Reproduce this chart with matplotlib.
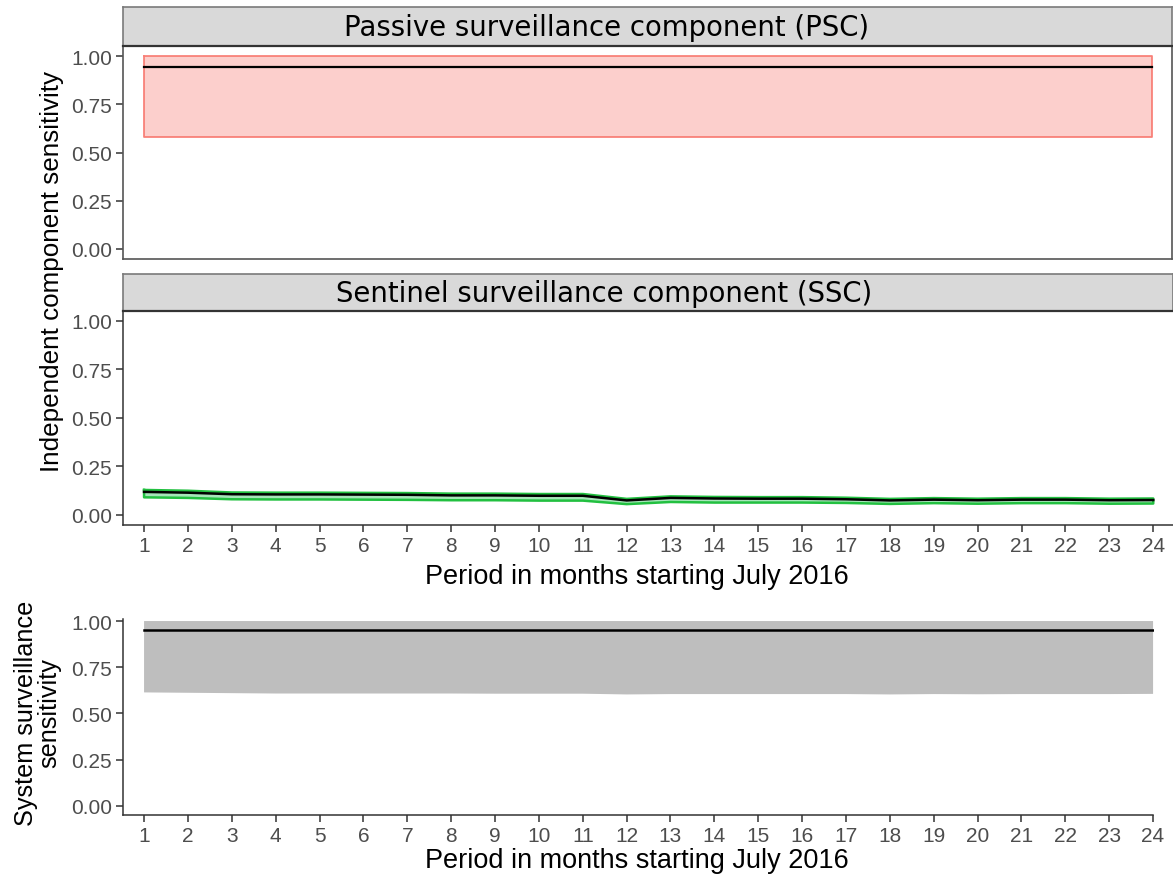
import numpy as np
import matplotlib
matplotlib.use("Agg")
import matplotlib.pyplot as plt

# Months since July 2016
months = list(range(1, 25))

# Passive surveillance component (PSC): median and 95% interval
psc_mean = [0.943] * 24
psc_lower = [0.580] * 24
psc_upper = [1.000] * 24

# Sentinel surveillance component (SSC)
ssc_mean = [0.118, 0.114, 0.106, 0.105, 0.105, 0.104, 0.103, 0.100, 0.100, 0.098,
            0.098, 0.074, 0.087, 0.084, 0.083, 0.083, 0.080, 0.074, 0.078, 0.075,
            0.078, 0.078, 0.075, 0.076]
ssc_lower = [0.090, 0.087, 0.080, 0.079, 0.079, 0.078, 0.077, 0.075, 0.075, 0.073,
             0.073, 0.055, 0.066, 0.063, 0.063, 0.063, 0.061, 0.056, 0.060, 0.057,
             0.060, 0.060, 0.057, 0.058]
ssc_upper = [0.128, 0.124, 0.115, 0.114, 0.114, 0.113, 0.112, 0.109, 0.109, 0.107,
             0.107, 0.082, 0.095, 0.092, 0.091, 0.091, 0.088, 0.082, 0.086, 0.083,
             0.086, 0.086, 0.083, 0.084]

# Whole-system surveillance sensitivity
sys_mean = [0.951] * 24
sys_lower = [0.614, 0.612, 0.610, 0.608, 0.608, 0.608, 0.608, 0.608, 0.607, 0.607,
             0.607, 0.603, 0.605, 0.605, 0.605, 0.605, 0.605, 0.603, 0.605, 0.604,
             0.605, 0.605, 0.605, 0.606]
sys_upper = [1.000] * 24

yticks = [0.0, 0.25, 0.5, 0.75, 1.0]
ytick_labels = ["0.00", "0.25", "0.50", "0.75", "1.00"]
strip_titles = ["Passive surveillance component (PSC)",
                "Sentinel surveillance component (SSC)"]
xlabel = "Period in months starting July 2016"

W, H = 1173, 879
fig = plt.figure(figsize=(W / 100, H / 100), dpi=100)

TICK_FONT = "Liberation Sans"
AX_COL = "#333333"
TXT_COL = "#4D4D4D"
TICK_SIZE = 15
LABEL_SIZE = 19.5


def px_axes(x0, y0, x1, y1):
    return fig.add_axes([x0 / W, 1 - y1 / H, (x1 - x0) / W, (y1 - y0) / H])


def style_y(ax):
    ax.set_yticks(yticks)
    ax.set_yticklabels(ytick_labels, fontfamily=TICK_FONT, fontsize=TICK_SIZE,
                       color=TXT_COL)
    ax.tick_params(axis="y", length=5, width=1.1, color=AX_COL, pad=3)


def style_x(ax):
    ax.set_xticks(months)
    ax.set_xticklabels([str(m) for m in months], fontfamily=TICK_FONT,
                       fontsize=TICK_SIZE, color=TXT_COL)
    ax.tick_params(axis="x", length=5, width=1.1, color=AX_COL, pad=3)


def strip(x0, y0, x1, y1, title, tx):
    s = px_axes(x0, y0, x1, y1)
    s.set_facecolor("#D9D9D9")
    s.set_xticks([])
    s.set_yticks([])
    for side in ["top", "left", "right"]:
        s.spines[side].set_color("#7a7a7a")
        s.spines[side].set_linewidth(1.2)
    s.spines["bottom"].set_color(AX_COL)
    s.spines["bottom"].set_linewidth(1.6)
    fig.text(tx / W, 1 - ((y0 + y1) / 2 + 1) / H, title, ha="center", va="center",
             fontfamily="DejaVu Sans", fontsize=19.8, color="black")


XL = (0.52, 24.45)

# --- PSC panel ---
ax1 = px_axes(123, 47, 1172, 260)
ax1.fill_between(months, psc_lower, psc_upper, facecolor="#F8766D", alpha=0.35,
                 edgecolor="none")
ax1.plot(months + months[::-1] + [months[0]],
         psc_upper + psc_lower[::-1] + [psc_upper[0]], color="#F8766D", lw=1.3,
         alpha=0.9)
ax1.plot(months, psc_mean, color="black", lw=1.6)
ax1.set_xlim(*XL)
ax1.set_ylim(-0.052, 1.052)
style_y(ax1)
ax1.set_xticks([])
for sp in ax1.spines.values():
    sp.set_color("#555555")
    sp.set_linewidth(1.2)
strip(123, 8, 1172, 47, strip_titles[0], 607)

# --- SSC panel ---
ax2 = px_axes(123, 312, 1173, 525.5)
ax2.fill_between(months, ssc_lower, ssc_upper, facecolor="#00BA38", alpha=0.35,
                 edgecolor="none")
ax2.plot(months + months[::-1] + [months[0]],
         ssc_upper + ssc_lower[::-1] + [ssc_upper[0]], color="#22C040", lw=1.8)
ax2.plot(months, ssc_mean, color="black", lw=1.8)
ax2.set_xlim(*XL)
ax2.set_ylim(-0.05, 1.05)
style_y(ax2)
style_x(ax2)
for side in ["top", "right"]:
    ax2.spines[side].set_visible(False)
for side in ["left", "bottom"]:
    ax2.spines[side].set_color(AX_COL)
    ax2.spines[side].set_linewidth(1.1)
strip(123, 275, 1173, 312, strip_titles[1], 604)
fig.text(637 / W, 1 - 577 / H, xlabel, ha="center", va="center",
         fontfamily=TICK_FONT, fontsize=LABEL_SIZE, color="black")

fig.text(52 / W, 1 - 272 / H, "Independent component sensitivity", rotation=90,
         ha="center", va="center", fontfamily=TICK_FONT, fontsize=18.7,
         color="black")

# --- System panel ---
ax3 = px_axes(123, 620, 1153.5, 816)
ax3.fill_between(months, sys_lower, sys_upper, facecolor="#BEBEBE",
                 edgecolor="none")
ax3.plot(months, sys_mean, color="black", lw=1.8)
ax3.set_xlim(XL[0], 24.01)
ax3.set_ylim(-0.049, 1.011)
style_y(ax3)
style_x(ax3)
for side in ["top", "right"]:
    ax3.spines[side].set_visible(False)
for side in ["left", "bottom"]:
    ax3.spines[side].set_color(AX_COL)
    ax3.spines[side].set_linewidth(1.1)
fig.text(637 / W, 1 - 861 / H, xlabel, ha="center", va="center",
         fontfamily=TICK_FONT, fontsize=LABEL_SIZE, color="black")
fig.text(38 / W, 1 - 713 / H, "System surveillance\nsensitivity", rotation=90,
         ha="center", va="center", multialignment="center", linespacing=0.95,
         fontfamily=TICK_FONT, fontsize=18.2, color="black")

fig.savefig("out.png", dpi=100, facecolor="white")
